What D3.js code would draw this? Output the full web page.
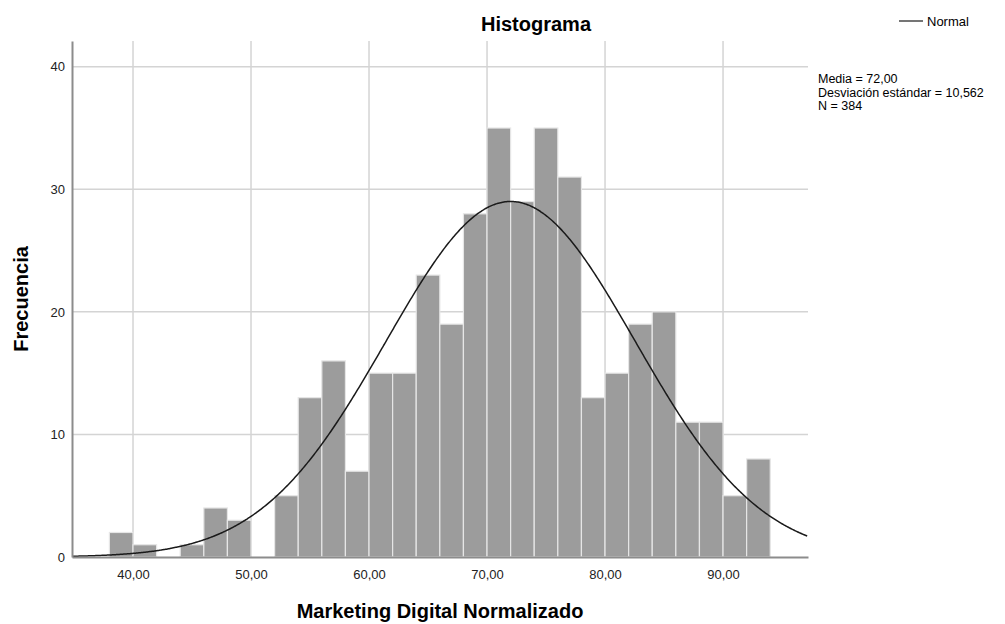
<!DOCTYPE html>
<html>
<head>
<meta charset="utf-8">
<script src="https://cdn.jsdelivr.net/npm/d3@7"></script>
<style>
  body { margin: 0; background: #fff; }
  svg { font-family: "Liberation Sans", Arial, sans-serif; }
</style>
</head>
<body>
<svg id="hist"></svg>
<script>
// bin starts (width 2) and frequencies
var binStarts = [38,40,42,44,46,48,50,52,54,56,58,60,62,64,66,68,70,72,74,76,78,80,82,84,86,88,90,92]
var counts    = [2,1,0,1,4,3,0,5,13,16,7,15,15,23,19,28,35,29,35,31,13,15,19,20,11,11,5,8]
var binWidth = 2
var xTicks = [40,50,60,70,80,90]
var yTicks = [0,10,20,30,40]
var media = 72.00
var desv = 10.562
var n = 384
var statLines = ["Media = 72,00", "Desviación estándar = 10,562", "N = 384"]

var dimensions = {
    width: 1005,
    height: 624,
    margin: { top: 41, bottom: 67, right: 197, left: 72 }
}

var svg = d3.select("#hist")
            .attr("width", dimensions.width)
            .attr("height", dimensions.height)

var xScale = d3.scaleLinear()
                .domain([34.83, 97.2])
                .range([dimensions.margin.left, dimensions.width - dimensions.margin.right])

var yScale = d3.scaleLinear()
                .domain([0, 42.1])
                .range([dimensions.height - dimensions.margin.bottom, dimensions.margin.top])

var bottom = dimensions.height - dimensions.margin.bottom

// grid
svg.append("g").selectAll("line")
    .data(yTicks.filter(d => d > 0))
    .enter().append("line")
    .attr("x1", dimensions.margin.left)
    .attr("x2", dimensions.width - dimensions.margin.right)
    .attr("y1", d => yScale(d))
    .attr("y2", d => yScale(d))
    .attr("stroke", "#d4d4d4")
    .attr("stroke-width", 1.5)

svg.append("g").selectAll("line")
    .data(xTicks)
    .enter().append("line")
    .attr("x1", d => xScale(d))
    .attr("x2", d => xScale(d))
    .attr("y1", dimensions.margin.top)
    .attr("y2", bottom)
    .attr("stroke", "#d4d4d4")
    .attr("stroke-width", 1.5)

// bars
svg.append("g").selectAll("rect")
    .data(counts)
    .enter()
    .append("rect")
    .attr("x", (d,i) => xScale(binStarts[i]))
    .attr("y", d => yScale(d))
    .attr("width", (d,i) => xScale(binStarts[i] + binWidth) - xScale(binStarts[i]))
    .attr("height", d => bottom - yScale(d))
    .attr("fill", "#9c9c9c")
    .attr("stroke", "#e6e6e6")
    .attr("stroke-width", 1.2)

// normal curve from the stated mean / sd / N
var curvePts = d3.range(34.83, 97.21, 0.1).map(function(v){
    var z = (v - media) / desv
    return [v, n * binWidth * Math.exp(-0.5 * z * z) / (desv * Math.sqrt(2 * Math.PI))]
})
var line = d3.line().x(d => xScale(d[0])).y(d => yScale(d[1])).curve(d3.curveBasis)
svg.append("path")
    .datum(curvePts)
    .attr("d", line)
    .attr("fill", "none")
    .attr("stroke", "#1a1a1a")
    .attr("stroke-width", 1.5)

// axes
var xAxisgen = d3.axisBottom(xScale).tickValues(xTicks).tickSize(0).tickPadding(13)
                 .tickFormat(d => d3.format(".2f")(d).replace(".", ","))
var yAxisgen = d3.axisLeft(yScale).tickValues(yTicks).tickSize(0).tickPadding(7)

var xAxis = svg.append("g")
    .attr("transform", `translate(0,${bottom})`)
    .call(xAxisgen)
xAxis.select(".domain").attr("stroke", "#8c8c8c").attr("stroke-width", 2)
xAxis.selectAll("text").attr("font-size", 13).attr("fill", "#222").attr("font-family", "Liberation Sans, Arial")

var yAxis = svg.append("g")
    .attr("transform", `translate(${dimensions.margin.left},0)`)
    .call(yAxisgen)
yAxis.select(".domain").attr("stroke", "#8c8c8c").attr("stroke-width", 2)
yAxis.selectAll("text").attr("font-size", 13).attr("fill", "#222").attr("font-family", "Liberation Sans, Arial")

// titles
svg.append("text")
    .attr("x", 536).attr("y", 31)
    .attr("text-anchor", "middle")
    .attr("font-size", 20).attr("font-weight", "bold")
    .text("Histograma")

svg.append("text")
    .attr("x", 440).attr("y", 618)
    .attr("text-anchor", "middle")
    .attr("font-size", 20).attr("font-weight", "bold")
    .text("Marketing Digital Normalizado")

svg.append("text")
    .attr("transform", "translate(28,299) rotate(-90)")
    .attr("text-anchor", "middle")
    .attr("font-size", 20).attr("font-weight", "bold")
    .text("Frecuencia")

// legend
svg.append("line")
    .attr("x1", 899).attr("x2", 923).attr("y1", 21).attr("y2", 21)
    .attr("stroke", "#1a1a1a").attr("stroke-width", 1.2)
svg.append("text")
    .attr("x", 927).attr("y", 26)
    .attr("font-size", 13)
    .text("Normal")

// stats
svg.append("g").selectAll("text")
    .data(statLines)
    .enter().append("text")
    .attr("x", 818)
    .attr("y", (d,i) => 83 + i * 13.5)
    .attr("font-size", 12.5)
    .text(d => d)
</script>
</body>
</html>
